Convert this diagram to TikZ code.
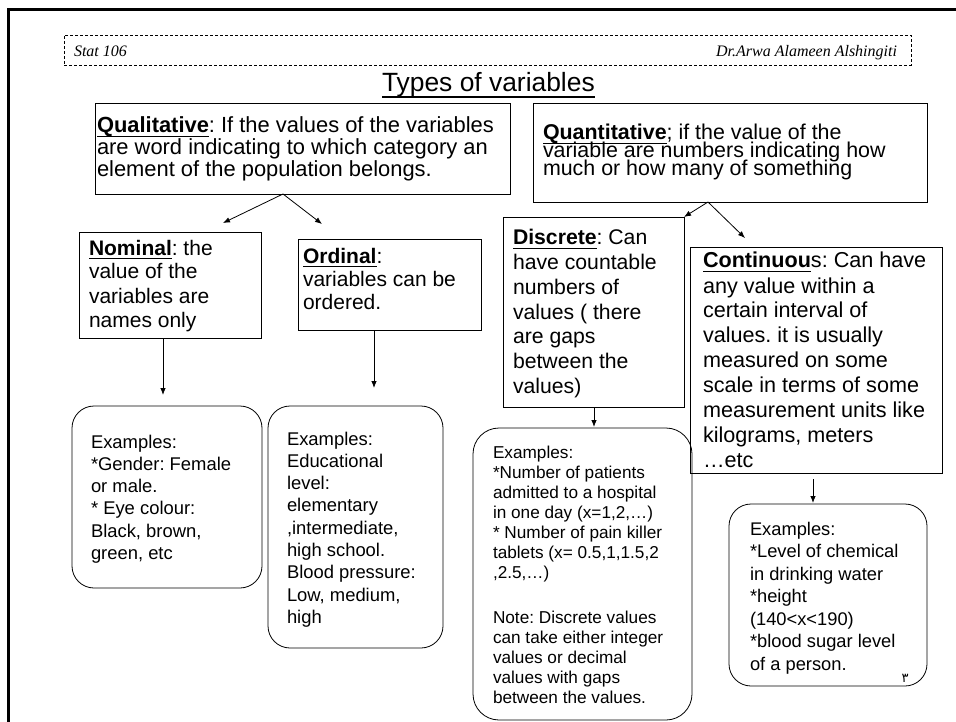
\documentclass[tikz,border=0pt]{standalone}
\usepackage{fontspec}
\setmainfont{Liberation Sans}
\newfontfamily\hdrfont{Liberation Serif}
\newfontfamily\arabicfont[Script=Arabic]{DejaVu Sans}
\usetikzlibrary{arrows.meta}
\TeXXeTstate=1
\frenchspacing
\newcommand\fsz[2]{\fontsize{#1}{#2}\selectfont}
\newcommand\txtl[1]{\vtop{\lineskiplimit=-100pt\lineskip=0pt\halign{##\hfil\cr#1\crcr}}}
\newcommand\bu[1]{\leavevmode\setbox0=\hbox{\bfseries #1}\rlap{\rule[-0.2em]{\wd0}{0.075em}}\box0}
\newcommand\tu[1]{\leavevmode\setbox0=\hbox{#1}\rlap{\rule[-0.21em]{\wd0}{0.055em}}\box0}
\begin{document}
\begin{tikzpicture}[x=1pt,y=-1pt,
  box/.style={draw, line width=0.8pt, inner sep=0, outer sep=0, anchor=north west},
  rbox/.style={box, rounded corners=22pt},
  tx/.style={inner sep=0, outer sep=0, anchor=base west, execute at begin node=\frenchspacing},
  arr/.style={line width=0.8pt, -{Latex[length=7pt,width=5.5pt]}}]
\useasboundingbox (0,0) rectangle (956,722);
\fill[white] (0,0) rectangle (956,722);
\draw[line width=3pt] (8.5,726) -- (8.5,9.5) -- (960,9.5);
% header
\node[box, line width=0.6pt, dash pattern=on 3pt off 2pt, minimum width=847, minimum height=30] (hdr) at (64,35) {};
\node[tx] (stat) at (74,57) {\hdrfont\itshape\fsz{16}{18}Stat 106};
\node[tx, anchor=base east] (auth) at (897,57) {\hdrfont\itshape\fsz{16}{18}Dr.Arwa Alameen Alshingiti};
\node[tx] (title) at (382,92) {\fsz{26.4}{30}\tu{Types of variables}};
% boxes
\node[box, minimum width=415, minimum height=91] (qual) at (95,103) {};
\node[box, minimum width=394, minimum height=99] (quant) at (533,103) {};
\node[box, minimum width=182, minimum height=106] (nom) at (79,232) {};
\node[box, minimum width=183, minimum height=91] (ord) at (298,239) {};
\node[box, minimum width=181, minimum height=190] (disc) at (503,217) {};
\node[box, minimum width=252, minimum height=226] (cont) at (690,247) {};
\node[rbox, minimum width=190, minimum height=182] (nomex) at (72,406) {};
\node[rbox, minimum width=175, minimum height=242] (ordex) at (268,406) {};
\node[rbox, rounded corners=26pt, minimum width=219, minimum height=292] (discex) at (473,428) {};
\node[rbox, minimum width=198, minimum height=182] (contex) at (729,504) {};
% texts
\node[tx] (qualt) at (97,133) {\fsz{21.9}{22}\txtl{\bu{Qualitative}: If the values of the variables\cr are word indicating to which category an\cr element of the population belongs.}};
\node[tx] (quantt) at (543,140) {\fsz{21.4}{17.8}\txtl{\bu{Quantitative}; if the value of the\cr variable are numbers indicating how\cr much or how many of something}};
\node[tx] (nomt) at (89,255) {\fsz{21}{24}\txtl{\bu{Nominal}: the\cr value of the\cr variables are\cr names only}};
\node[tx] (ordt) at (303,263) {\fsz{21}{23.5}\txtl{\bu{Ordinal}:\cr variables can be\cr ordered.}};
\node[tx] (disct) at (513,245) {\fsz{21.2}{24.7}\txtl{\bu{Discrete}: Can\cr have countable\cr numbers of\cr values ( there\cr are gaps\cr between the\cr values)}};
\node[tx] (contt) at (703,268) {\fsz{21.6}{25}\txtl{\bu{Continuou}s: Can have\cr any value within a\cr certain interval of\cr values. it is usually\cr measured on some\cr scale in terms of some\cr measurement units like\cr kilograms, meters\cr …etc}};
\node[tx] (nomext) at (91,448) {\fsz{18.4}{22.3}\txtl{Examples:\cr *Gender: Female\cr or male.\cr * Eye colour:\cr Black, brown,\cr green, etc}};
\node[tx] (ordext) at (287,445) {\fsz{18.4}{22.3}\txtl{Examples:\cr Educational\cr level:\cr elementary\cr ,intermediate,\cr high school.\cr Blood pressure:\cr Low, medium,\cr high}};
\node[tx] (discext) at (493,458) {\fsz{17.2}{20}\txtl{Examples:\cr *Number of patients\cr admitted to a hospital\cr in one day (x=1,2,…)\cr * Number of pain killer\cr tablets (x= 0.5,1,1.5,2\cr ,2.5,…)\cr\noalign{\vskip 25pt}Note: Discrete values\cr can take either integer\cr values or decimal\cr values with gaps\cr between the values.}};
\node[tx] (context) at (750,535) {\fsz{18.3}{22.5}\txtl{Examples:\cr *Level of chemical\cr in drinking water\cr *height\cr (140<x<190)\cr *blood sugar level\cr of a person.}};
\node[inner sep=0] (pnum) at (905,678) {\arabicfont\fontsize{13}{14}\selectfont\beginR ٣\endR};
% connectors
\coordinate (qsplit) at ([xshift=188pt]qual.south west);
\coordinate (nomin) at (223,223);
\coordinate (ordin) at (322,224);
\draw[arr] (qsplit) -- (nomin);
\draw[arr] (qsplit) -- (ordin);
\coordinate (nomexin) at (163,395);
\draw[arr] ([xshift=84pt]nom.south west) -- (nomexin);
\coordinate (ordexin) at (374,388);
\draw[arr] ([xshift=76pt]ord.south west) -- (ordexin);
\coordinate (qnsplit) at ([xshift=175pt]quant.south west);
\coordinate (contin) at (745,238);
\draw[arr] (qnsplit) -- (disc.north east);
\draw[arr] (qnsplit) -- (contin);
\coordinate (discexin) at (594,427);
\draw[arr] ([xshift=91pt]disc.south west) -- (discexin);
\coordinate (contexin) at (813,503);
\draw[arr] ([xshift=123pt,yshift=-6pt]cont.south west) -- (contexin);
\end{tikzpicture}
\end{document}
